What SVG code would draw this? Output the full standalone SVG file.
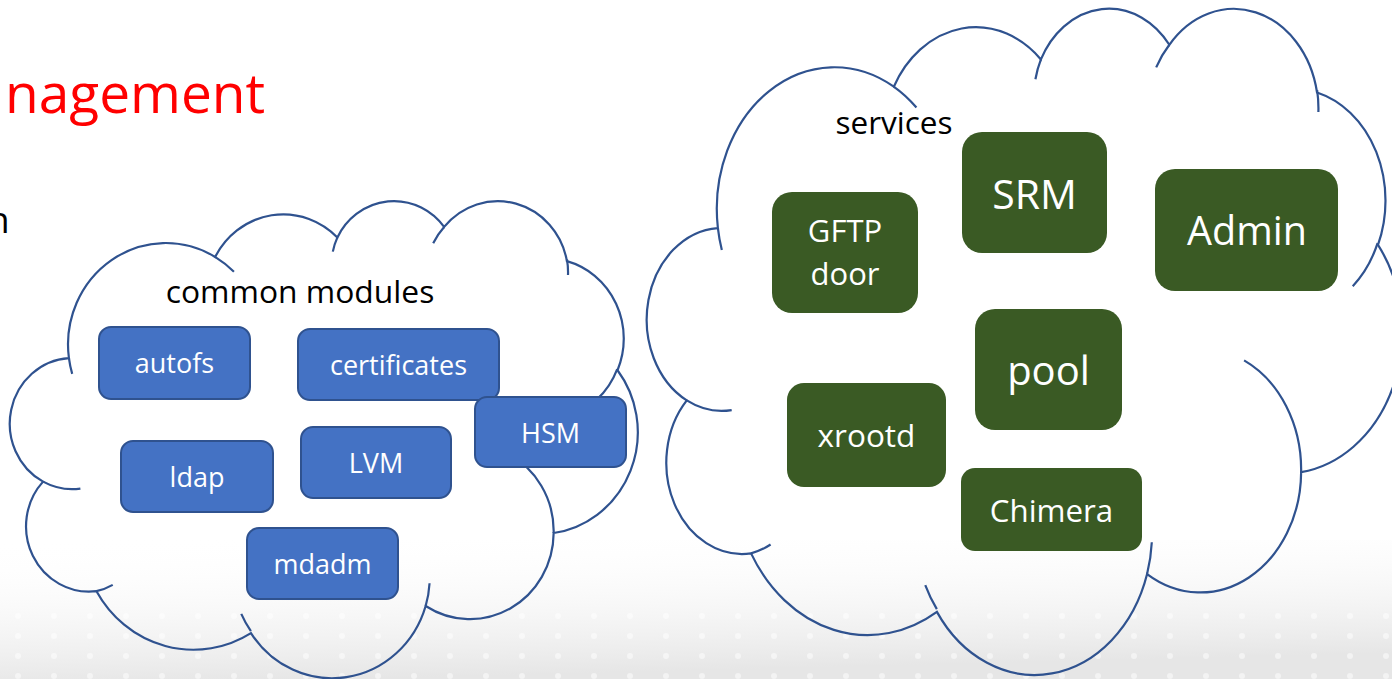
<svg xmlns="http://www.w3.org/2000/svg" width="1392" height="679" viewBox="0 0 1392 679">
  <defs>
    <linearGradient id="bgGrad" x1="0" y1="0" x2="0.25" y2="1">
      <stop offset="0" stop-color="#ffffff" stop-opacity="0"/>
      <stop offset="1" stop-color="#e6e6e6" stop-opacity="1"/>
    </linearGradient>
    <pattern id="dots" x="10" y="6" width="36" height="20" patternUnits="userSpaceOnUse">
      <circle cx="8" cy="10" r="3" fill="#ffffff"/>
    </pattern>
    <style>
      .cloud { fill: none; stroke: #2F528F; stroke-width: 2.2; vector-effect: non-scaling-stroke; }
      .bbox { fill: #4472C4; stroke: #2F528F; stroke-width: 2; }
      .gbox { fill: #3A5A24; stroke: none; }
      .btxt { font-family: "Open Sans", "Liberation Sans", sans-serif; font-size: 27px; fill: #ffffff; text-anchor: middle; }
      .gtxt { font-family: "Open Sans", "Liberation Sans", sans-serif; fill: #ffffff; text-anchor: middle; }
      .lbl { font-family: "Open Sans", "Liberation Sans", sans-serif; fill: #000000; }
    </style>
  </defs>

  <rect x="0" y="0" width="1392" height="679" fill="#ffffff"/>
  <rect x="0" y="540" width="1392" height="139" fill="url(#bgGrad)"/>
  <rect x="0" y="610" width="1392" height="69" fill="url(#dots)" opacity="0.5"/>

  <g id="title-text">
    <text class="lbl" x="5" y="113" font-size="55" style="fill:#FF0000">nagement</text>
    <text class="lbl" x="-13" y="233" font-size="37">n</text>
  </g>

  <g id="cloud-common">
    <g transform="translate(12.5,199.5) scale(0.0144676,0.0110417)">
      <path class="cloud" d="M 3900 14370 A 6753 9190 0 0 1 14006 5203 A 5333 7267 0 0 1 22457 3433 A 4365 5945 0 0 1 29835 2483 A 4857 6595 0 0 1 38320 5579 A 5333 7273 0 0 1 41820 15463 A 6775 9220 0 0 1 37405 30205 A 5785 7867 0 0 1 28557 36815 A 6752 9215 0 0 1 16482 39267 A 7720 10543 0 0 1 5805 35473 A 4360 5918 0 0 1 2113 25552 A 4345 5945 0 0 1 3900 14370 Z"/>
      <path class="cloud" d="M 4693 26177 A 4345 5945 0 0 1 2113 25552 M 6928 34899 A 4360 5918 0 0 1 5805 35473 M 16478 39090 A 6752 9215 0 0 1 15813 37526 M 28827 34751 A 6752 9215 0 0 1 28557 36815 M 34129 22954 A 5785 7867 0 0 1 37405 30205 M 41798 15354 A 5333 7273 0 0 1 40371 18140 M 38324 5426 A 4857 6595 0 0 1 38396 6842 M 29078 3952 A 4857 6595 0 0 1 29835 2483 M 22141 4720 A 4365 5945 0 0 1 22457 3433 M 14000 5192 A 6753 9190 0 0 1 15306 6552 M 4127 15789 A 6753 9190 0 0 1 3900 14370"/>
    </g>
    <text class="lbl" x="300" y="303" font-size="31.8" text-anchor="middle">common modules</text>
  </g>

  <g id="cloud-services">
    <g transform="translate(650,6.5) scale(0.0174074,0.0154167)">
      <path class="cloud" d="M 3900 14370 A 6753 9190 0 0 1 14006 5203 A 5333 7267 0 0 1 22457 3433 A 4365 5945 0 0 1 29835 2483 A 4857 6595 0 0 1 38320 5579 A 5333 7273 0 0 1 41820 15463 A 6775 9220 0 0 1 37405 30205 A 5785 7867 0 0 1 28557 36815 A 6752 9215 0 0 1 16482 39267 A 7720 10543 0 0 1 5805 35473 A 4360 5918 0 0 1 2113 25552 A 4345 5945 0 0 1 3900 14370 Z"/>
      <path class="cloud" d="M 4693 26177 A 4345 5945 0 0 1 2113 25552 M 6928 34899 A 4360 5918 0 0 1 5805 35473 M 16478 39090 A 6752 9215 0 0 1 15813 37526 M 28827 34751 A 6752 9215 0 0 1 28557 36815 M 34129 22954 A 5785 7867 0 0 1 37405 30205 M 41798 15354 A 5333 7273 0 0 1 40371 18140 M 38324 5426 A 4857 6595 0 0 1 38396 6842 M 29078 3952 A 4857 6595 0 0 1 29835 2483 M 22141 4720 A 4365 5945 0 0 1 22457 3433 M 14000 5192 A 6753 9190 0 0 1 15306 6552 M 4127 15789 A 6753 9190 0 0 1 3900 14370"/>
    </g>
    <text class="lbl" x="894" y="134" font-size="31.5" text-anchor="middle">services</text>
  </g>

  <g id="connectors"/>

  <g id="node-autofs">
    <rect class="bbox" x="99" y="327" width="151" height="72" rx="12"/>
    <text class="btxt" x="174.5" y="373">autofs</text>
  </g>
  <g id="node-certificates">
    <rect class="bbox" x="298" y="329" width="201" height="71" rx="12"/>
    <text class="btxt" x="398.5" y="375">certificates</text>
  </g>
  <g id="node-HSM">
    <rect class="bbox" x="475" y="397" width="151" height="70" rx="12"/>
    <text class="btxt" x="550.5" y="442.5">HSM</text>
  </g>
  <g id="node-LVM">
    <rect class="bbox" x="301" y="427" width="150" height="71" rx="12"/>
    <text class="btxt" x="376" y="473">LVM</text>
  </g>
  <g id="node-ldap">
    <rect class="bbox" x="121" y="441" width="152" height="71" rx="12"/>
    <text class="btxt" x="197" y="487">ldap</text>
  </g>
  <g id="node-mdadm">
    <rect class="bbox" x="247" y="528" width="151" height="71" rx="12"/>
    <text class="btxt" x="322.5" y="574">mdadm</text>
  </g>

  <g id="node-GFTP-door">
    <rect class="gbox" x="772" y="192" width="146" height="121" rx="20"/>
    <text class="gtxt" x="845" y="242" font-size="31">GFTP</text>
    <text class="gtxt" x="845" y="285" font-size="31">door</text>
  </g>
  <g id="node-SRM">
    <rect class="gbox" x="962" y="132" width="145" height="121" rx="20"/>
    <text class="gtxt" x="1034.5" y="209" font-size="41">SRM</text>
  </g>
  <g id="node-Admin">
    <rect class="gbox" x="1155" y="169" width="183" height="122" rx="20"/>
    <text class="gtxt" x="1247" y="245" font-size="39.5">Admin</text>
  </g>
  <g id="node-pool">
    <rect class="gbox" x="975" y="309" width="147" height="121" rx="20"/>
    <text class="gtxt" x="1048.5" y="385" font-size="40">pool</text>
  </g>
  <g id="node-xrootd">
    <rect class="gbox" x="787" y="383" width="159" height="104" rx="17"/>
    <text class="gtxt" x="866.5" y="447" font-size="31.5">xrootd</text>
  </g>
  <g id="node-Chimera">
    <rect class="gbox" x="961" y="468" width="181" height="83" rx="14"/>
    <text class="gtxt" x="1051.5" y="522" font-size="31.3">Chimera</text>
  </g>
</svg>
